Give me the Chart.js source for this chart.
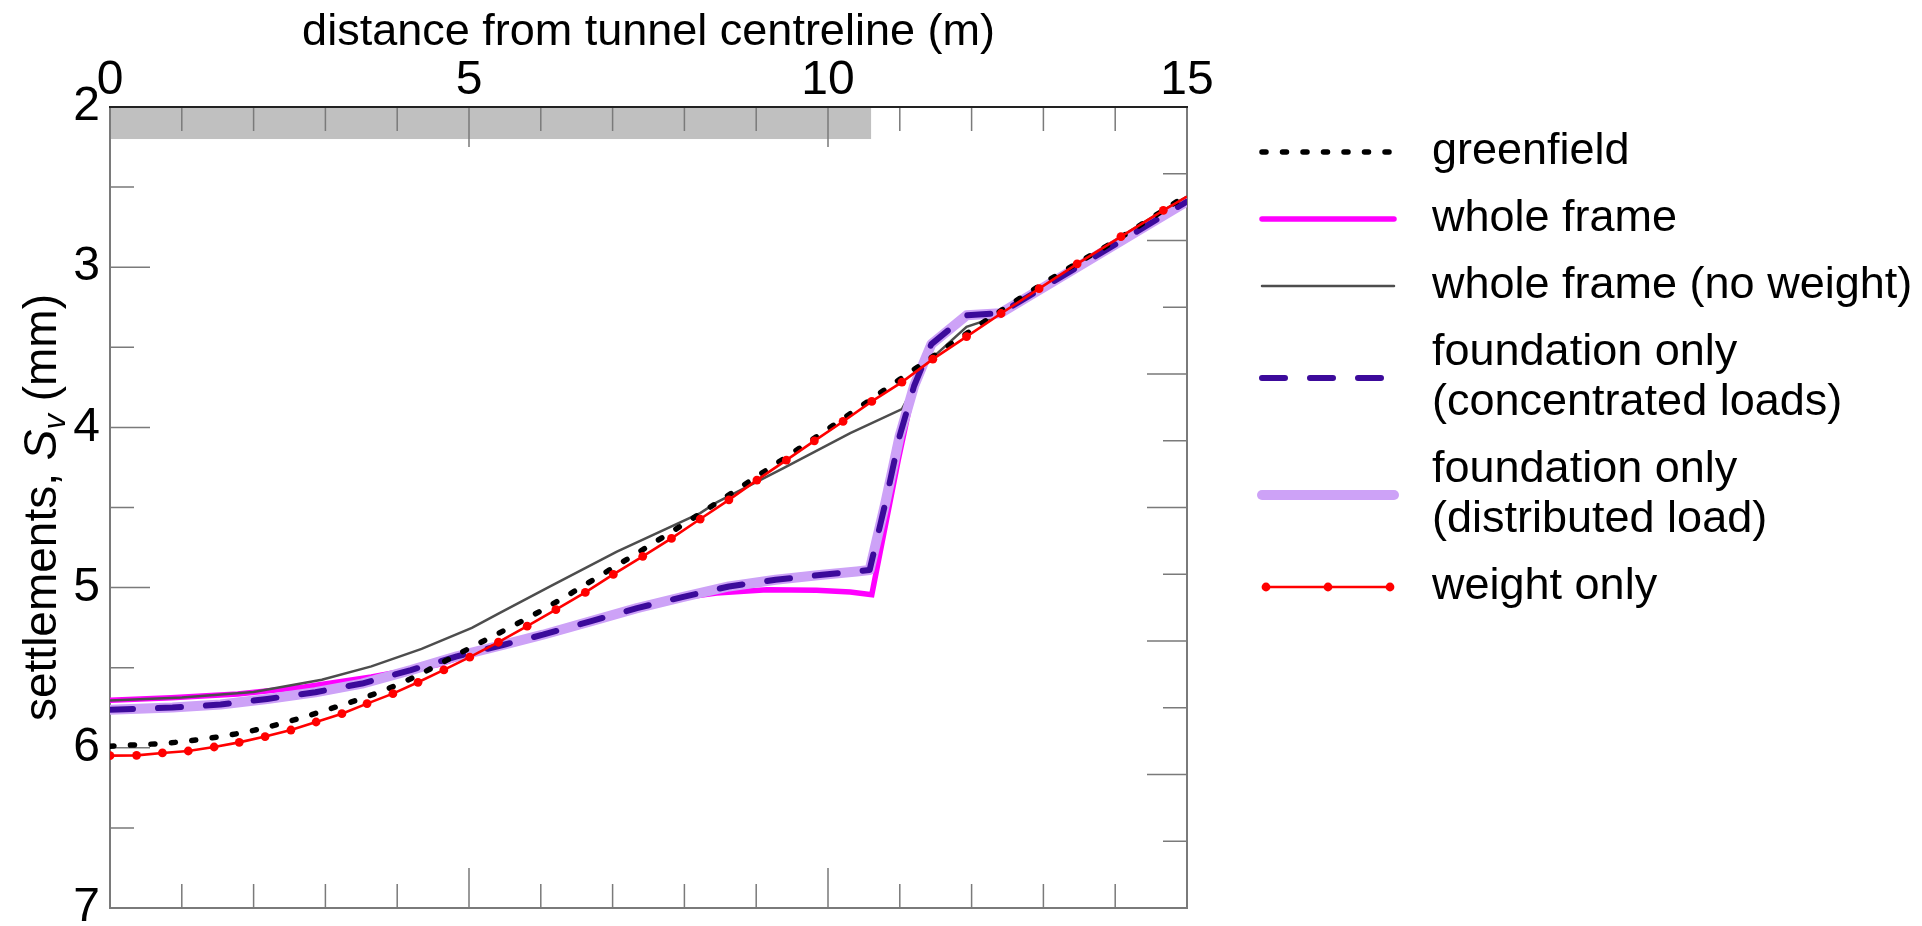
<!DOCTYPE html>
<html>
<head>
<meta charset="utf-8">
<script src="https://cdn.jsdelivr.net/npm/chart.js@4.4.1/dist/chart.umd.min.js"></script>
<style>
html,body{margin:0;padding:0;background:#fff;overflow:hidden}
canvas{display:block}
</style>
</head>
<body>
<canvas id="c" width="1922" height="926"></canvas>
<script>
// ---------- data ----------
const xTitle = 'distance from tunnel centreline (m)';
const xMajorEvery = 5;          // x tick labels at 0, 5, 10, 15
const yMajorEvery = 1;          // y tick labels at 2 ... 7
const xRange = [0, 15];
const yRange = [2, 7];
const rightTickRange = [0, 12];

// building (grey bar at the top)
const buildingX = [0, 10.6];
const buildingY = [2.0, 2.2];

const greenfieldX = [0, 1, 2, 3, 4, 5, 6, 7, 8, 9, 10, 11, 12, 13, 14, 15];
const greenfieldY = [5.99, 5.962, 5.891, 5.766, 5.607, 5.38, 5.145, 4.878, 4.601, 4.309, 4.01, 3.70, 3.393, 3.101, 2.835, 2.55];

const wholeFrameX = [0, 0.85, 1.78, 2.71, 3.64, 4.57, 5.27, 6.03, 6.69, 7.34, 7.75, 8.45, 9.15, 9.84, 10.31, 10.61, 10.98, 11.2, 11.44, 11.93, 12.4, 15];
const wholeFrameY = [5.703, 5.688, 5.664, 5.62, 5.558, 5.481, 5.377, 5.294, 5.211, 5.128, 5.076, 5.034, 5.013, 5.017, 5.027, 5.044, 4.2, 3.74, 3.48, 3.30, 3.287, 2.59];

const noWeightX = [0, 1, 2, 2.95, 3.64, 4.34, 5.04, 5.43, 6.13, 7.06, 8.22, 8.45, 9.38, 10.31, 11.03, 11.37, 11.93, 12.21, 12.41, 12.94, 13.47, 14.08, 14.67, 15];
const noWeightY = [5.705, 5.686, 5.652, 5.575, 5.492, 5.383, 5.252, 5.158, 4.992, 4.776, 4.535, 4.468, 4.254, 4.036, 3.886, 3.60, 3.372, 3.33, 3.289, 3.134, 2.979, 2.809, 2.645, 2.559];

const concentratedX = [0, 0.87, 1.54, 2.19, 2.86, 3.51, 4.19, 4.83, 5.5, 6.03, 6.69, 7.34, 7.97, 8.62, 9.27, 9.92, 10.4, 10.58, 10.8, 11.0, 11.2, 11.44, 11.93, 12.4, 15];
const concentratedY = [5.762, 5.749, 5.73, 5.695, 5.653, 5.599, 5.515, 5.429, 5.355, 5.294, 5.211, 5.128, 5.059, 4.993, 4.951, 4.92, 4.899, 4.89, 4.47, 4.05, 3.74, 3.48, 3.30, 3.287, 2.59];

const distributedX = [0, 0.87, 1.54, 2.19, 2.86, 3.51, 4.19, 4.83, 5.5, 6.03, 6.69, 7.34, 7.97, 8.62, 9.27, 9.92, 10.4, 10.58, 10.8, 11.0, 11.2, 11.44, 11.93, 12.4, 15];
const distributedY = [5.762, 5.749, 5.73, 5.695, 5.653, 5.599, 5.515, 5.429, 5.355, 5.294, 5.211, 5.128, 5.059, 4.993, 4.951, 4.92, 4.899, 4.89, 4.47, 4.05, 3.74, 3.48, 3.30, 3.287, 2.59];

const weightOnlyX = [0, 0.37, 0.73, 1.09, 1.45, 1.8, 2.16, 2.52, 2.87, 3.23, 3.58, 3.94, 4.29, 4.65, 5.01, 5.41, 5.81, 6.21, 6.62, 7.01, 7.42, 7.82, 8.22, 8.62, 9.01, 9.42, 9.81, 10.21, 10.61, 11.03, 11.46, 11.93, 12.41, 12.94, 13.47, 14.08, 14.67, 15];
const weightOnlyY = [6.049, 6.047, 6.032, 6.02, 5.995, 5.966, 5.93, 5.889, 5.839, 5.787, 5.724, 5.662, 5.591, 5.514, 5.434, 5.341, 5.241, 5.138, 5.03, 4.918, 4.805, 4.693, 4.572, 4.452, 4.329, 4.204, 4.084, 3.963, 3.838, 3.717, 3.574, 3.433, 3.289, 3.134, 2.979, 2.809, 2.645, 2.559];

const legendLabels = [
  ['greenfield'],
  ['whole frame'],
  ['whole frame (no weight)'],
  ['foundation only', '(concentrated loads)'],
  ['foundation only', '(distributed load)'],
  ['weight only']
];

// ---------- chart ----------
const FONT = '"Liberation Sans", Arial, Helvetica, sans-serif';
const pts = (xs, ys) => xs.map((v, i) => ({x: v, y: ys[i]}));

const datasets = [
  {label: legendLabels[0].join(' '), data: pts(greenfieldX, greenfieldY),
   borderColor: '#000000', borderWidth: 5.5, borderDash: [4, 16.5], borderCapStyle: 'round',
   cubicInterpolationMode: 'monotone', pointRadius: 0, order: 1},
  {label: legendLabels[1].join(' '), data: pts(wholeFrameX, wholeFrameY),
   borderColor: '#ff00ff', borderWidth: 5.5, tension: 0, pointRadius: 0, order: 5},
  {label: legendLabels[2].join(' '), data: pts(noWeightX, noWeightY),
   borderColor: '#4d4d4d', borderWidth: 2.5, tension: 0, pointRadius: 0, order: 4},
  {label: legendLabels[3].join(' '), data: pts(concentratedX, concentratedY),
   borderColor: '#3c0a9b', borderWidth: 6, borderDash: [23, 25], borderCapStyle: 'round',
   borderJoinStyle: 'round', tension: 0, pointRadius: 0, order: 2},
  {label: legendLabels[4].join(' '), data: pts(distributedX, distributedY),
   borderColor: '#cda2f7', borderWidth: 10, borderCapStyle: 'round', borderJoinStyle: 'round',
   tension: 0, pointRadius: 0, order: 3},
  {label: legendLabels[5].join(' '), data: pts(weightOnlyX, weightOnlyY),
   borderColor: '#ff0000', borderWidth: 2.6, tension: 0,
   pointRadius: c => (c.dataIndex === weightOnlyX.length - 1 ? 0 : 4.4),
   pointBackgroundColor: '#ff0000', pointBorderWidth: 0, order: 0, legendMarkers: true}
];

const decorPlugin = {
  id: 'decor',
  beforeDatasetsDraw(chart) {
    const {ctx, chartArea: a, scales} = chart;
    const x = scales.x, y = scales.y, y2 = scales.y2;
    ctx.save();
    // building bar
    const bx0 = x.getPixelForValue(buildingX[0]), bx1 = x.getPixelForValue(buildingX[1]);
    const by0 = y.getPixelForValue(buildingY[0]), by1 = y.getPixelForValue(buildingY[1]);
    ctx.fillStyle = '#c0c0c0';
    ctx.fillRect(bx0, by0, bx1 - bx0, by1 - by0);
    // inward ticks
    ctx.strokeStyle = '#7a7a7a';
    ctx.lineWidth = 1.5;
    ctx.beginPath();
    x.ticks.forEach(t => {
      const px = x.getPixelForValue(t.value);
      const len = (t.value % xMajorEvery === 0) ? 40 : 24;
      ctx.moveTo(px, a.top); ctx.lineTo(px, a.top + len);
      ctx.moveTo(px, a.bottom); ctx.lineTo(px, a.bottom - len);
    });
    y.ticks.forEach(t => {
      const py = y.getPixelForValue(t.value);
      const len = (Math.abs(t.value / yMajorEvery - Math.round(t.value / yMajorEvery)) < 1e-6) ? 40 : 24;
      ctx.moveTo(a.left, py); ctx.lineTo(a.left + len, py);
    });
    y2.ticks.forEach(t => {
      const py = y2.getPixelForValue(t.value);
      const len = (t.value % 2 === 0) ? 40 : 24;
      ctx.moveTo(a.right, py); ctx.lineTo(a.right - len, py);
    });
    ctx.stroke();
    // frame
    ctx.lineWidth = 2;
    ctx.strokeStyle = '#7a7a7a';
    ctx.beginPath();
    ctx.moveTo(a.left, a.top); ctx.lineTo(a.left, a.bottom);
    ctx.lineTo(a.right, a.bottom); ctx.lineTo(a.right, a.top);
    ctx.stroke();
    ctx.strokeStyle = '#222';
    ctx.beginPath();
    ctx.moveTo(a.left - 1, a.top); ctx.lineTo(a.right + 1, a.top);
    ctx.stroke();
    ctx.restore();
  },
  afterDraw(chart) {
    const {ctx, chartArea: a} = chart;
    ctx.save();
    // y axis title with italic S and subscript v
    const parts = [
      {t: 'settlements, ', f: '46px ' + FONT, dy: 0},
      {t: 'S', f: 'italic 46px ' + FONT, dy: 0},
      {t: 'v', f: 'italic 31px ' + FONT, dy: 9},
      {t: ' (mm)', f: '46px ' + FONT, dy: 0}
    ];
    let total = 0;
    parts.forEach(p => { ctx.font = p.f; p.w = ctx.measureText(p.t).width; total += p.w; });
    ctx.translate(56, (a.top + a.bottom) / 2);
    ctx.rotate(-Math.PI / 2);
    ctx.fillStyle = '#000';
    ctx.textBaseline = 'alphabetic';
    ctx.textAlign = 'left';
    let cx = -total / 2;
    parts.forEach(p => { ctx.font = p.f; ctx.fillText(p.t, cx, p.dy); cx += p.w; });
    ctx.restore();

    // legend
    ctx.save();
    const lx0 = 1262, lx1 = 1394, tx = 1432;
    let yc = 152;
    chart.data.datasets.forEach((ds, i) => {
      const lines = legendLabels[i];
      const centers = lines.map((_, k) => yc + k * 50);
      const ym = (centers[0] + centers[centers.length - 1]) / 2;
      ctx.strokeStyle = ds.borderColor;
      ctx.lineWidth = ds.borderWidth;
      ctx.setLineDash(ds.borderDash || []);
      ctx.lineCap = 'round';
      ctx.beginPath();
      if (ds.legendMarkers) {
        ctx.moveTo(lx0 + 3, ym); ctx.lineTo(lx1 - 3, ym);
      } else {
        ctx.moveTo(lx0, ym); ctx.lineTo(lx1, ym);
      }
      ctx.stroke();
      ctx.setLineDash([]);
      if (ds.legendMarkers) {
        ctx.fillStyle = ds.pointBackgroundColor;
        [lx0 + 4, (lx0 + lx1) / 2, lx1 - 4].forEach(px => {
          ctx.beginPath(); ctx.arc(px, ym, 4.4, 0, Math.PI * 2); ctx.fill();
        });
      }
      ctx.fillStyle = '#000';
      ctx.font = '45px ' + FONT;
      ctx.textBaseline = 'middle';
      ctx.textAlign = 'left';
      lines.forEach((s, k) => ctx.fillText(s, tx, centers[k]));
      yc = centers[centers.length - 1] + 67;
    });
    ctx.restore();
  }
};

new Chart(document.getElementById('c'), {
  type: 'line',
  data: {datasets},
  options: {
    responsive: false,
    devicePixelRatio: 1,
    animation: false,
    events: [],
    layout: {padding: {left: 0, top: 0, right: 735, bottom: 18}},
    plugins: {legend: {display: false}, tooltip: {enabled: false}},
    elements: {line: {fill: false}},
    scales: {
      x: {
        type: 'linear', position: 'top', min: xRange[0], max: xRange[1],
        grid: {display: false, drawTicks: false}, border: {display: false},
        ticks: {stepSize: 1, autoSkip: false, maxRotation: 0, padding: 0, color: '#000',
                font: {family: FONT, size: 48, lineHeight: 1.1},
                callback: v => (v % xMajorEvery === 0 ? String(v) : '')},
        title: {display: true, text: xTitle, color: '#000', font: {family: FONT, size: 45},
                padding: {top: 6, bottom: 0}},
        afterFit: s => { s.height = 107; s.paddingLeft = 0; s.paddingRight = 0; }
      },
      y: {
        type: 'linear', position: 'left', reverse: true, min: yRange[0], max: yRange[1],
        grid: {display: false, drawTicks: false}, border: {display: false},
        ticks: {stepSize: 0.5, autoSkip: false, padding: 10, color: '#000',
                font: {family: FONT, size: 48},
                callback: v => (Math.abs(v - Math.round(v)) < 1e-6 ? String(Math.round(v)) : '')},
        afterFit: s => { s.width = 110; s.paddingTop = 0; s.paddingBottom = 0; }
      },
      y2: {
        type: 'linear', position: 'right', min: rightTickRange[0], max: rightTickRange[1],
        grid: {display: false, drawTicks: false}, border: {display: false},
        ticks: {display: false, stepSize: 1, autoSkip: false},
        afterFit: s => { s.width = 0; s.paddingTop = 0; s.paddingBottom = 0; }
      }
    }
  },
  plugins: [decorPlugin]
});
</script>
</body>
</html>
